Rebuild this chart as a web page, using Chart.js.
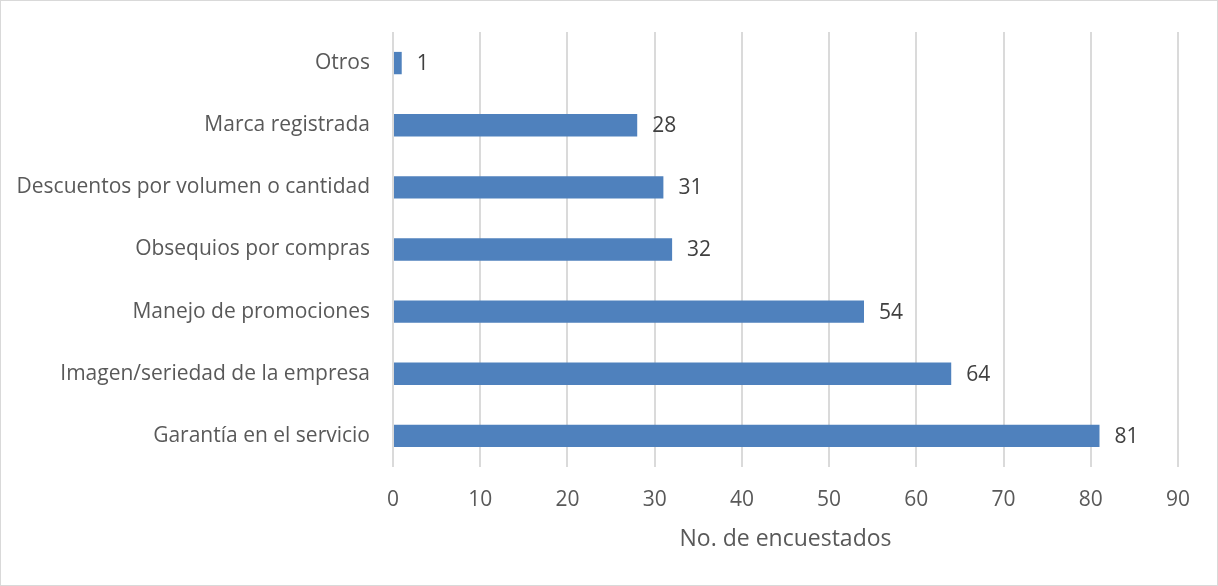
<!DOCTYPE html>
<html>
<head>
<meta charset="utf-8">
<script src="https://cdn.jsdelivr.net/npm/chart.js@4"></script>
<style>
  html, body { margin: 0; padding: 0; background: #fff; }
  #wrap { width: 1218px; height: 586px; position: relative; }
</style>
</head>
<body>
<div id="wrap"><canvas id="c" width="1218" height="586"></canvas></div>
<script>
// Factores de decisión de compra (número de encuestados)
const categories = [
  'Otros',
  'Marca registrada',
  'Descuentos por volumen o cantidad',
  'Obsequios por compras',
  'Manejo de promociones',
  'Imagen/seriedad de la empresa',
  'Garantía en el servicio'
];
const respondents = [1, 28, 31, 32, 54, 64, 81];
const xTicks = [0, 10, 20, 30, 40, 50, 60, 70, 80, 90];
const axisTitle = 'No. de encuestados';

const FONT = "'Open Sans', 'Noto Sans', sans-serif";
const TEXT = '#595959';

// Marco exterior y fondo blanco
const frame = {
  id: 'frame',
  beforeDraw(chart) {
    const ctx = chart.ctx;
    ctx.save();
    ctx.fillStyle = '#ffffff';
    ctx.fillRect(0, 0, chart.width, chart.height);
    ctx.strokeStyle = '#d9d9d9';
    ctx.lineWidth = 1;
    ctx.strokeRect(0.5, 0.5, chart.width - 1, chart.height - 1);
    ctx.restore();
  }
};

// Etiquetas con el valor al final de cada barra
const valueLabels = {
  id: 'valueLabels',
  afterDatasetsDraw(chart) {
    const ctx = chart.ctx;
    const meta = chart.getDatasetMeta(0);
    const xs = chart.scales.x;
    ctx.save();
    ctx.font = '21px ' + FONT;
    ctx.fillStyle = '#404040';
    ctx.textAlign = 'left';
    ctx.textBaseline = 'middle';
    meta.data.forEach((bar, i) => {
      const v = chart.data.datasets[0].data[i];
      ctx.fillText(String(v), xs.getPixelForValue(v) + 15, bar.y + 1);
    });
    ctx.restore();
  }
};

new Chart(document.getElementById('c'), {
  type: 'bar',
  data: {
    labels: categories,
    datasets: [{
      data: respondents,
      backgroundColor: '#4f81bd',
      borderWidth: 0,
      barPercentage: 0.36,
      categoryPercentage: 1
    }]
  },
  options: {
    indexAxis: 'y',
    responsive: false,
    animation: false,
    layout: { padding: { left: 0, right: 40, top: 32, bottom: 0 } },
    plugins: {
      legend: { display: false },
      tooltip: { enabled: false }
    },
    scales: {
      x: {
        min: 0,
        max: 90,
        afterBuildTicks(scale) {
          scale.ticks = xTicks.map(v => ({ value: v }));
        },
        grid: { color: '#dadada', lineWidth: 2, drawTicks: false },
        border: { display: false },
        ticks: {
          color: TEXT,
          font: { family: FONT, size: 21 },
          padding: 20
        },
        title: {
          display: true,
          text: axisTitle,
          color: TEXT,
          font: { family: FONT, size: 23 },
          padding: { top: 0, bottom: 33 }
        },
        afterFit(scale) { scale.height = 119; }
      },
      y: {
        grid: { display: false, drawTicks: false },
        border: { display: false },
        ticks: {
          color: TEXT,
          font: { family: FONT, size: 21 },
          padding: 23
        },
        afterFit(scale) {
          scale.width = 393;
          scale.paddingTop = 0;
          scale.paddingBottom = 0;
        }
      }
    }
  },
  plugins: [frame, valueLabels]
});
</script>
</body>
</html>
